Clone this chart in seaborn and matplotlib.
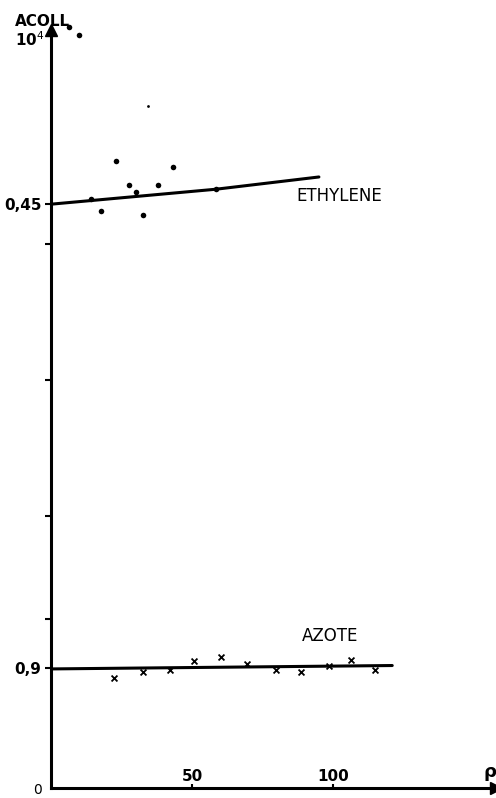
import numpy as np
import pandas as pd
import matplotlib.pyplot as plt
import seaborn as sns

# Ethylene measurements (rho, scaled Acoll)
eth_rho = [6.4, 9.9, 14.2, 17.7, 23.0, 27.7, 30.1, 32.6, 38.0, 43.3, 58.5]
eth_val = [5.59, 5.53, 4.33, 4.24, 4.61, 4.43, 4.38, 4.21, 4.43, 4.56, 4.40]
eth_speck_rho = [34.4]
eth_speck_val = [5.01]
eth_fit_rho = [0.0, 58.5, 95.0]
eth_fit_val = [4.29, 4.40, 4.49]

# Azote measurements
az_rho = [22.3, 32.6, 42.2, 50.7, 60.3, 69.5, 79.8, 88.7, 98.6, 106.4, 114.9]
az_val = [0.81, 0.85, 0.87, 0.93, 0.96, 0.91, 0.87, 0.85, 0.90, 0.94, 0.87]
az_fit_rho = [0.0, 121.0]
az_fit_val = [0.875, 0.90]

ytick_pos = [0.88, 1.24, 2.0, 3.0, 4.0, 4.29]
ytick_lab = ['0,9', '', '', '', '', '0,45']
xtick_pos = [50, 100]
xtick_lab = ['50', '100']

sns.set_style('white')
plt.rcParams['font.family'] = ['DejaVu Sans']
plt.rcParams['text.color'] = 'black'
plt.rcParams['xtick.color'] = 'black'
plt.rcParams['ytick.color'] = 'black'

fig = plt.figure(figsize=(4.96, 7.98), dpi=100)
ax = fig.add_axes([51 / 496, 10 / 798, 445 / 496, 758 / 798])

eth = pd.DataFrame({'rho': eth_rho, 'val': eth_val})
az = pd.DataFrame({'rho': az_rho, 'val': az_val})

sns.lineplot(x=eth_fit_rho, y=eth_fit_val, ax=ax, color='black', lw=2.2)
sns.lineplot(x=az_fit_rho, y=az_fit_val, ax=ax, color='black', lw=2.2)
sns.scatterplot(data=eth, x='rho', y='val', ax=ax, color='black', s=16,
                marker='o', edgecolor='black', linewidth=0, clip_on=False)
sns.scatterplot(x=eth_speck_rho, y=eth_speck_val, ax=ax, color='black', s=4,
                marker='o', linewidth=0)
sns.scatterplot(data=az, x='rho', y='val', ax=ax, color='black', s=18,
                marker='x', linewidth=1.3)

ax.set_xlim(0, 157.8)
ax.set_ylim(0, 5.57)
ax.set_xlabel('')
ax.set_ylabel('')

for s in ['top', 'right']:
    ax.spines[s].set_visible(False)
for s in ['left', 'bottom']:
    ax.spines[s].set_linewidth(2.2)
    ax.spines[s].set_color('black')

# arrow heads
ax.plot(1, 0, '>k', ms=8, transform=ax.get_yaxis_transform(), clip_on=False)
ax.plot(0, 1, '^k', ms=8, transform=ax.get_xaxis_transform(), clip_on=False)

ax.set_yticks(ytick_pos)
ax.set_yticklabels(ytick_lab, fontsize=11, fontweight='bold')
ax.tick_params(axis='y', left=True, direction='out', length=4, width=1.5, pad=3)
ax.set_xticks(xtick_pos)
ax.set_xticklabels(xtick_lab, fontsize=11, fontweight='bold')
ax.tick_params(axis='x', bottom=True, direction='in', length=3, width=1.5, pad=-14)

ax.text(87, 4.35, 'ETHYLENE', fontsize=12, ha='left', va='center')
ax.text(89, 1.12, 'AZOTE', fontsize=12, ha='left', va='center')

fig.text(15 / 496, 1 - 22 / 798, 'ACOLL', fontsize=11, fontweight='bold',
         ha='left', va='center')
fig.text(15 / 496, 1 - 40 / 798, r'10$^4$', fontsize=11, fontweight='bold',
         ha='left', va='center')
fig.text(37 / 496, 1 - 790 / 798, '0', fontsize=10, ha='center', va='center')
fig.text(490 / 496, 1 - 772 / 798, 'ρ', fontsize=13, fontweight='bold',
         ha='center', va='center')

fig.savefig('out.png', dpi=100)
